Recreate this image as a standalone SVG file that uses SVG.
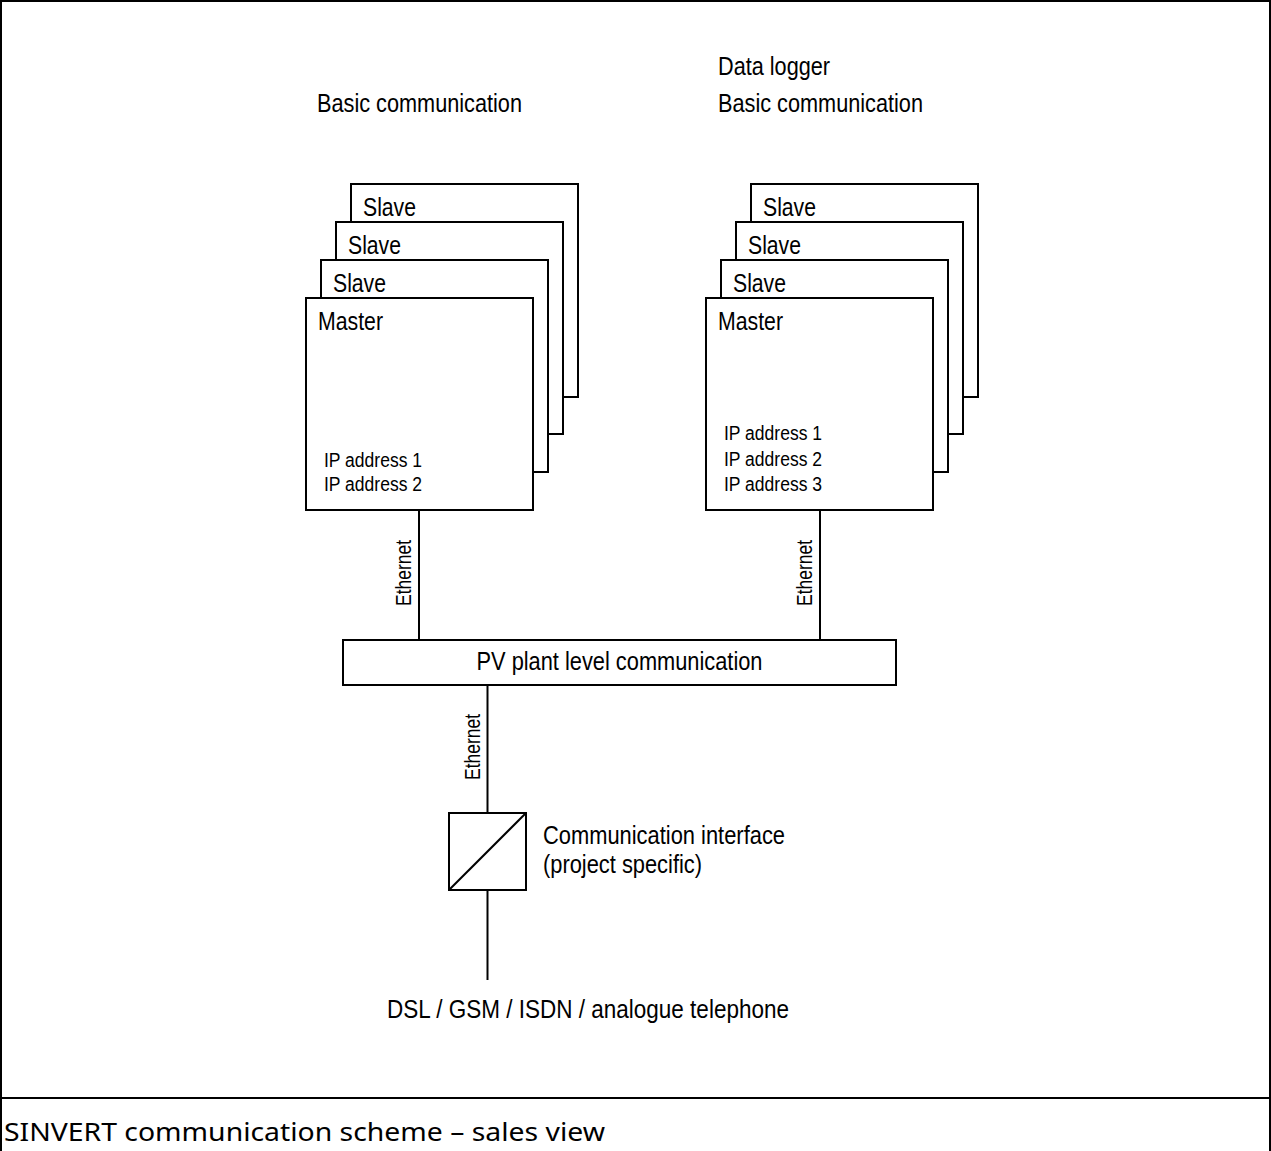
<svg xmlns="http://www.w3.org/2000/svg" width="1271" height="1151" viewBox="0 0 1271 1151">
<style>
.box{fill:#fff;stroke:#000;stroke-width:2}
.ln{stroke:#000;stroke-width:2;fill:none}
.t{font-family:"Liberation Sans Narrow","Liberation Sans",Arial,sans-serif;fill:#000}
.big{font-size:26px}
.med{font-size:25px}
.sm{font-size:20px}
.eth{font-size:22px}
.cap{font-family:"Noto Sans","Open Sans",sans-serif;font-size:25px;fill:#000}
</style>
<rect width="1271" height="1151" fill="#fff"/>
<g id="frame">
<rect x="1" y="1" width="1269" height="1170" class="ln"/>
<line x1="1" y1="1098" x2="1270" y2="1098" class="ln"/>
<text class="cap" x="4" y="1141" textLength="601" lengthAdjust="spacingAndGlyphs">SINVERT communication scheme – sales view</text>
</g>
<g id="headers">
<text class="t big" x="317" y="112" textLength="205" lengthAdjust="spacingAndGlyphs">Basic communication</text>
<text class="t big" x="718" y="75" textLength="112" lengthAdjust="spacingAndGlyphs">Data logger</text>
<text class="t big" x="718" y="112" textLength="205" lengthAdjust="spacingAndGlyphs">Basic communication</text>
</g>
<g id="connectors">
<line x1="419" y1="510" x2="419" y2="640" class="ln"/>
<line x1="820" y1="510" x2="820" y2="640" class="ln"/>
<line x1="487.5" y1="685" x2="487.5" y2="813" class="ln"/>
<line x1="487.5" y1="890" x2="487.5" y2="980" class="ln"/>
<text class="t eth" transform="translate(411,573) rotate(-90)" text-anchor="middle" textLength="66" lengthAdjust="spacingAndGlyphs">Ethernet</text>
<text class="t eth" transform="translate(812,573) rotate(-90)" text-anchor="middle" textLength="66" lengthAdjust="spacingAndGlyphs">Ethernet</text>
<text class="t eth" transform="translate(480,747) rotate(-90)" text-anchor="middle" textLength="66" lengthAdjust="spacingAndGlyphs">Ethernet</text>
</g>
<g id="left-stack">
<rect x="351" y="184" width="227" height="213" class="box"/>
<text class="t med" x="363" y="216" textLength="53" lengthAdjust="spacingAndGlyphs">Slave</text>
<rect x="336" y="222" width="227" height="212" class="box"/>
<text class="t med" x="348" y="254" textLength="53" lengthAdjust="spacingAndGlyphs">Slave</text>
<rect x="321" y="260" width="227" height="212" class="box"/>
<text class="t med" x="333" y="292" textLength="53" lengthAdjust="spacingAndGlyphs">Slave</text>
<rect x="306" y="298" width="227" height="212" class="box"/>
<text class="t med" x="318" y="330" textLength="65" lengthAdjust="spacingAndGlyphs">Master</text>
<text class="t sm" x="324" y="467" textLength="98" lengthAdjust="spacingAndGlyphs">IP address 1</text>
<text class="t sm" x="324" y="491" textLength="98" lengthAdjust="spacingAndGlyphs">IP address 2</text>
</g>
<g id="right-stack">
<rect x="751" y="184" width="227" height="213" class="box"/>
<text class="t med" x="763" y="216" textLength="53" lengthAdjust="spacingAndGlyphs">Slave</text>
<rect x="736" y="222" width="227" height="212" class="box"/>
<text class="t med" x="748" y="254" textLength="53" lengthAdjust="spacingAndGlyphs">Slave</text>
<rect x="721" y="260" width="227" height="212" class="box"/>
<text class="t med" x="733" y="292" textLength="53" lengthAdjust="spacingAndGlyphs">Slave</text>
<rect x="706" y="298" width="227" height="212" class="box"/>
<text class="t med" x="718" y="330" textLength="65" lengthAdjust="spacingAndGlyphs">Master</text>
<text class="t sm" x="724" y="440" textLength="98" lengthAdjust="spacingAndGlyphs">IP address 1</text>
<text class="t sm" x="724" y="466" textLength="98" lengthAdjust="spacingAndGlyphs">IP address 2</text>
<text class="t sm" x="724" y="491" textLength="98" lengthAdjust="spacingAndGlyphs">IP address 3</text>
</g>
<g id="pv-plant">
<rect x="343" y="640" width="553" height="45" class="box"/>
<text class="t big" x="619.5" y="670" text-anchor="middle" textLength="286" lengthAdjust="spacingAndGlyphs">PV plant level communication</text>
</g>
<g id="comm-interface">
<rect x="449" y="813" width="77" height="77" class="box"/>
<line x1="449" y1="890" x2="526" y2="813" class="ln"/>
<text class="t big" x="543" y="844" textLength="242" lengthAdjust="spacingAndGlyphs">Communication interface</text>
<text class="t big" x="543" y="873" textLength="159" lengthAdjust="spacingAndGlyphs">(project specific)</text>
</g>
<g id="dsl">
<text class="t big" x="387" y="1018" textLength="402" lengthAdjust="spacingAndGlyphs">DSL / GSM / ISDN / analogue telephone</text>
</g>
</svg>
